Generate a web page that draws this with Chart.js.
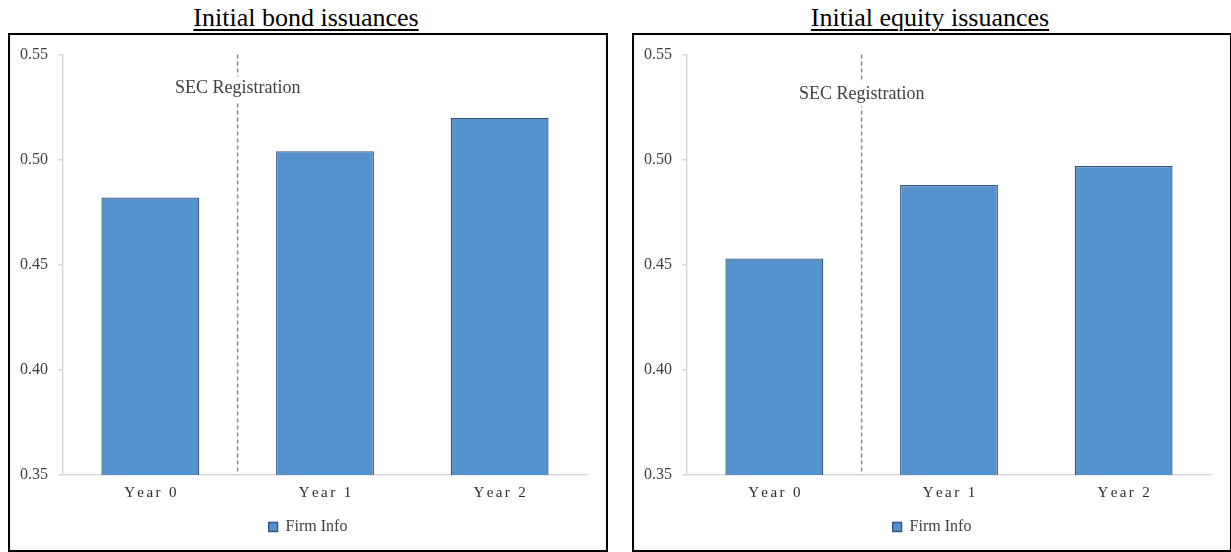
<!DOCTYPE html>
<html><head><meta charset="utf-8">
<script src="https://cdn.jsdelivr.net/npm/chart.js@4.4.1/dist/chart.umd.min.js"></script>
<style>
html,body{margin:0;padding:0;background:#fff;width:1231px;height:552px;overflow:hidden;}
.title{position:absolute;top:3px;width:600px;text-align:center;font:26px "Liberation Serif","Times New Roman",serif;text-decoration:underline;text-underline-offset:3px;text-decoration-thickness:1.5px;color:#000;line-height:30px;}
.box{position:absolute;top:33px;width:600px;height:519px;border:2px solid #000;box-sizing:border-box;background:#fff;}
.box canvas{display:block;}
</style></head><body>
<div class="title" id="t1" style="left:6px"></div>
<div class="box" style="left:8px"><canvas id="c1" width="596" height="515"></canvas></div>
<div class="title" id="t2" style="left:630px"></div>
<div class="box" style="left:632px"><canvas id="c2" width="596" height="515"></canvas></div>
<script>
const categories = ['Year 0', 'Year 1', 'Year 2'];
const bondValues = [0.482, 0.504, 0.520];
const equityValues = [0.453, 0.488, 0.497];
const yMin = 0.35, yMax = 0.55, yStep = 0.05;
const seriesLabel = 'Firm Info';
const bondTitle = 'Initial bond issuances';
const equityTitle = 'Initial equity issuances';
const markerLabel = 'SEC Registration';

document.getElementById('t1').textContent = bondTitle;
document.getElementById('t2').textContent = equityTitle;

const SERIF = '"Liberation Serif", "Times New Roman", serif';
const TEXT = '#404040';
const AXIS = '#d9d9d9';

// draws the dashed "SEC Registration" divider and the letter-spaced category labels
const markerPlugin = {
  id: 'marker',
  afterDatasetsDraw(chart, args, opts) {
    const ctx = chart.ctx, area = chart.chartArea, xs = chart.scales.x;
    const x = xs.getPixelForValue(0.5);
    ctx.save();
    ctx.strokeStyle = '#8c8c8c';
    ctx.lineWidth = 1.5;
    ctx.setLineDash([4, 3]);
    ctx.beginPath();
    ctx.moveTo(x, area.top);
    ctx.lineTo(x, area.bottom);
    ctx.stroke();
    ctx.setLineDash([]);
    ctx.font = '18px ' + SERIF;
    const w = ctx.measureText(opts.text).width;
    const y = area.top + opts.offsetY;
    ctx.fillStyle = '#fff';
    ctx.fillRect(x - w / 2 - 4, y - 12, w + 8, 24);
    ctx.fillStyle = TEXT;
    ctx.textAlign = 'center';
    ctx.textBaseline = 'middle';
    ctx.fillText(opts.text, x, y);
    ctx.restore();
  },
  afterDraw(chart, args, opts) {
    const ctx = chart.ctx, xs = chart.scales.x;
    ctx.save();
    ctx.font = '15px ' + SERIF;
    ctx.fillStyle = '#2b2b2b';
    ctx.textBaseline = 'middle';
    ctx.textAlign = 'left';
    const sp = opts.spacing;
    const y = xs.top + opts.labelOffset;
    xs.ticks.forEach((t, i) => {
      const label = xs.getLabelForValue(i);
      const chars = Array.from(label);
      const widths = chars.map(c => ctx.measureText(c).width);
      const total = widths.reduce((a, b) => a + b, 0) + sp * (chars.length - 1);
      let cx = xs.getPixelForTick(i) - total / 2;
      chars.forEach((c, k) => { ctx.fillText(c, cx, y); cx += widths[k] + sp; });
    });
    ctx.restore();
  }
};

function makeChart(id, values, markerOffset) {
  return new Chart(document.getElementById(id), {
    type: 'bar',
    data: {
      labels: categories,
      datasets: [{
        label: seriesLabel,
        data: values,
        backgroundColor: '#5591CC',
        borderColor: '#34557D',
        borderWidth: 1.3,
        barPercentage: 0.56,
        categoryPercentage: 1.0
      }]
    },
    options: {
      responsive: false,
      animation: false,
      devicePixelRatio: 1,
      layout: { padding: { top: 17, right: 0, bottom: 5, left: 0 } },
      scales: {
        x: {
          grid: { display: false },
          border: { display: true, color: AXIS, width: 1.5 },
          ticks: { display: false },
          afterFit(s) { s.height = 34; }
        },
        y: {
          min: yMin, max: yMax,
          grid: { display: true, drawOnChartArea: false, tickLength: 5, color: AXIS, lineWidth: 1.5 },
          border: { display: true, color: AXIS, width: 1.5 },
          ticks: { stepSize: yStep, color: TEXT, font: { family: SERIF, size: 16 }, padding: 10,
                   callback: v => Number(v).toFixed(2) },
          afterFit(s) { s.width = 53; }
        },
        pad: {
          position: 'right',
          display: true,
          grid: { display: false },
          border: { display: false },
          ticks: { display: false },
          afterFit(s) { s.width = 19; }
        }
      },
      plugins: {
        legend: {
          position: 'bottom',
          labels: { boxWidth: 9, boxHeight: 9, padding: 10, color: TEXT, font: { family: SERIF, size: 16 } }
        },
        tooltip: { enabled: false },
        marker: { text: markerLabel, offsetY: markerOffset, spacing: 2.4, labelOffset: 18 }
      }
    },
    plugins: [markerPlugin]
  });
}

makeChart('c1', bondValues, 34);
makeChart('c2', equityValues, 40);
</script>
</body></html>
